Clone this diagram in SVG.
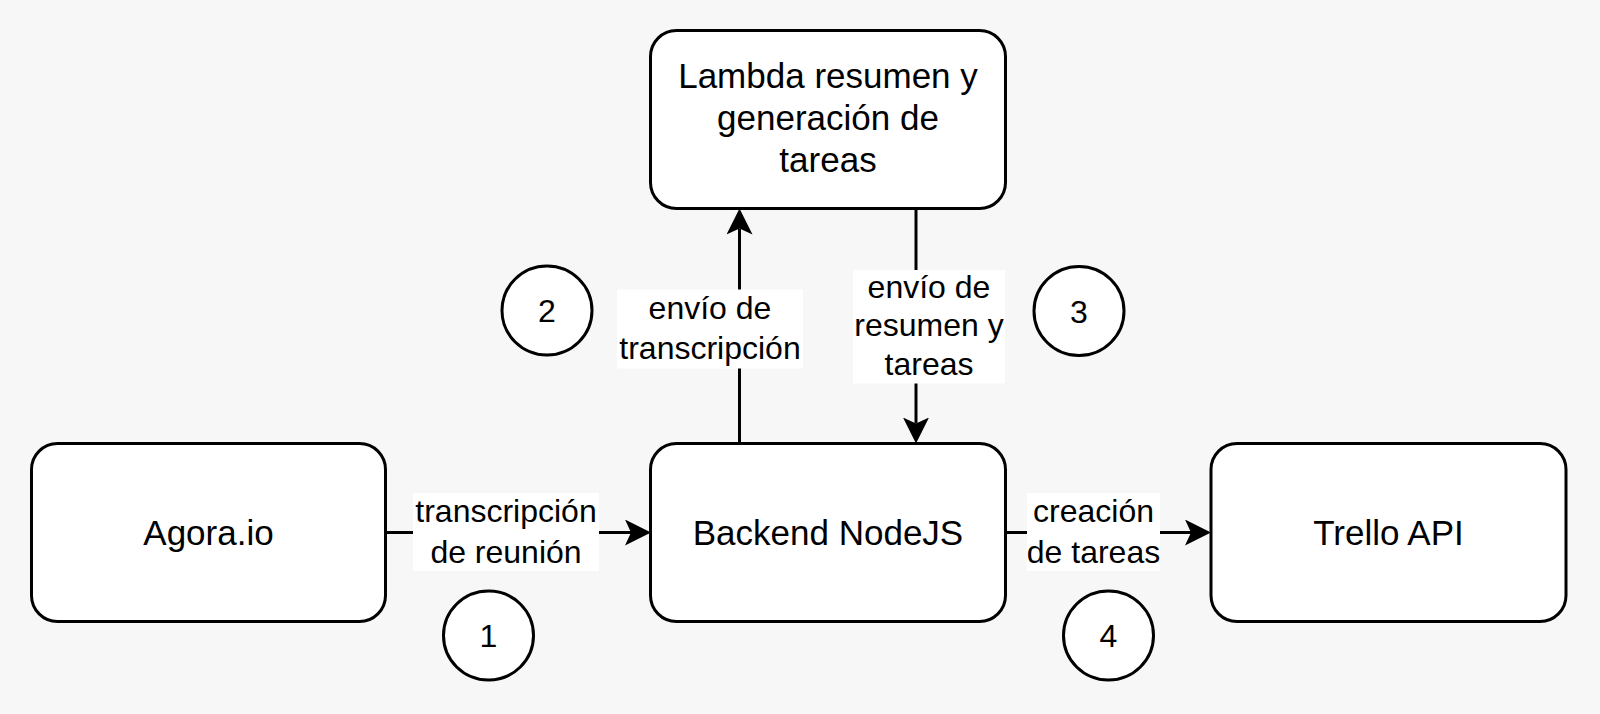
<svg xmlns="http://www.w3.org/2000/svg" width="1600" height="714" viewBox="0 0 1600 714">
<style>
.box{fill:#ffffff;stroke:#000000;stroke-width:3}
.circ{fill:#ffffff;stroke:#000000;stroke-width:3}
.edge{fill:none;stroke:#000000;stroke-width:3}
.lbg{fill:#ffffff;stroke:none}
.nt{font-family:"Liberation Sans",Arial,Helvetica,sans-serif;font-size:35px;fill:#000000;text-anchor:middle}
.et{font-family:"Liberation Sans",Arial,Helvetica,sans-serif;font-size:32px;fill:#000000;text-anchor:middle}
</style>
<defs>
<marker id="arr" viewBox="0 0 26 26" refX="6" refY="13" markerWidth="26" markerHeight="26" markerUnits="userSpaceOnUse" orient="auto">
<path d="M0,0 L26,13 L0,26 L6,13 Z" fill="#000000"/>
</marker>
</defs>
<rect x="0" y="0" width="1600" height="714" fill="#f7f7f7"/>
<g id="connectors">
<path class="edge" d="M386,532.5 H631" marker-end="url(#arr)"/>
<path class="edge" d="M739.5,443.5 V228.5" marker-end="url(#arr)"/>
<path class="edge" d="M916,208.5 V423.5" marker-end="url(#arr)"/>
<path class="edge" d="M1005.5,532.5 H1191" marker-end="url(#arr)"/>
<g id="label1">
<rect class="lbg" x="413" y="493" width="186" height="78"/>
<text class="et" x="506" y="522">transcripción</text>
<text class="et" x="506" y="563">de reunión</text>
</g>
<g id="label2">
<rect class="lbg" x="617" y="289.5" width="186" height="79"/>
<text class="et" x="710" y="318.5">envío de</text>
<text class="et" x="710" y="359">transcripción</text>
</g>
<g id="label3">
<rect class="lbg" x="853" y="270" width="152" height="113.5"/>
<text class="et" x="929" y="297.5">envío de</text>
<text class="et" x="929" y="336">resumen y</text>
<text class="et" x="929" y="374.5">tareas</text>
</g>
<g id="label4">
<rect class="lbg" x="1027" y="493" width="133" height="78"/>
<text class="et" x="1093.5" y="522">creación</text>
<text class="et" x="1093.5" y="563">de tareas</text>
</g>
</g>
<g id="lambda">
<rect class="box" x="650.5" y="30.5" width="355" height="178" rx="26" ry="26"/>
<text class="nt" x="828" y="88">Lambda resumen y</text>
<text class="nt" x="828" y="130">generación de</text>
<text class="nt" x="828" y="172">tareas</text>
</g>
<g id="agora">
<rect class="box" x="31.5" y="443.5" width="354" height="178" rx="26" ry="26"/>
<text class="nt" x="208.5" y="545">Agora.io</text>
</g>
<g id="backend">
<rect class="box" x="650.5" y="443.5" width="355" height="178" rx="26" ry="26"/>
<text class="nt" x="828" y="545">Backend NodeJS</text>
</g>
<g id="trello">
<rect class="box" x="1211" y="443.5" width="355" height="178" rx="26" ry="26"/>
<text class="nt" x="1388.5" y="545">Trello API</text>
</g>
<g id="step1">
<ellipse class="circ" cx="488.5" cy="635.5" rx="45" ry="44.5"/>
<text class="et" x="488.5" y="647">1</text>
</g>
<g id="step2">
<ellipse class="circ" cx="547" cy="310.5" rx="45" ry="44.5"/>
<text class="et" x="547" y="322">2</text>
</g>
<g id="step3">
<ellipse class="circ" cx="1079" cy="311" rx="45" ry="44.5"/>
<text class="et" x="1079" y="322.5">3</text>
</g>
<g id="step4">
<ellipse class="circ" cx="1108.5" cy="635.5" rx="45" ry="44.5"/>
<text class="et" x="1108.5" y="647">4</text>
</g>
</svg>
